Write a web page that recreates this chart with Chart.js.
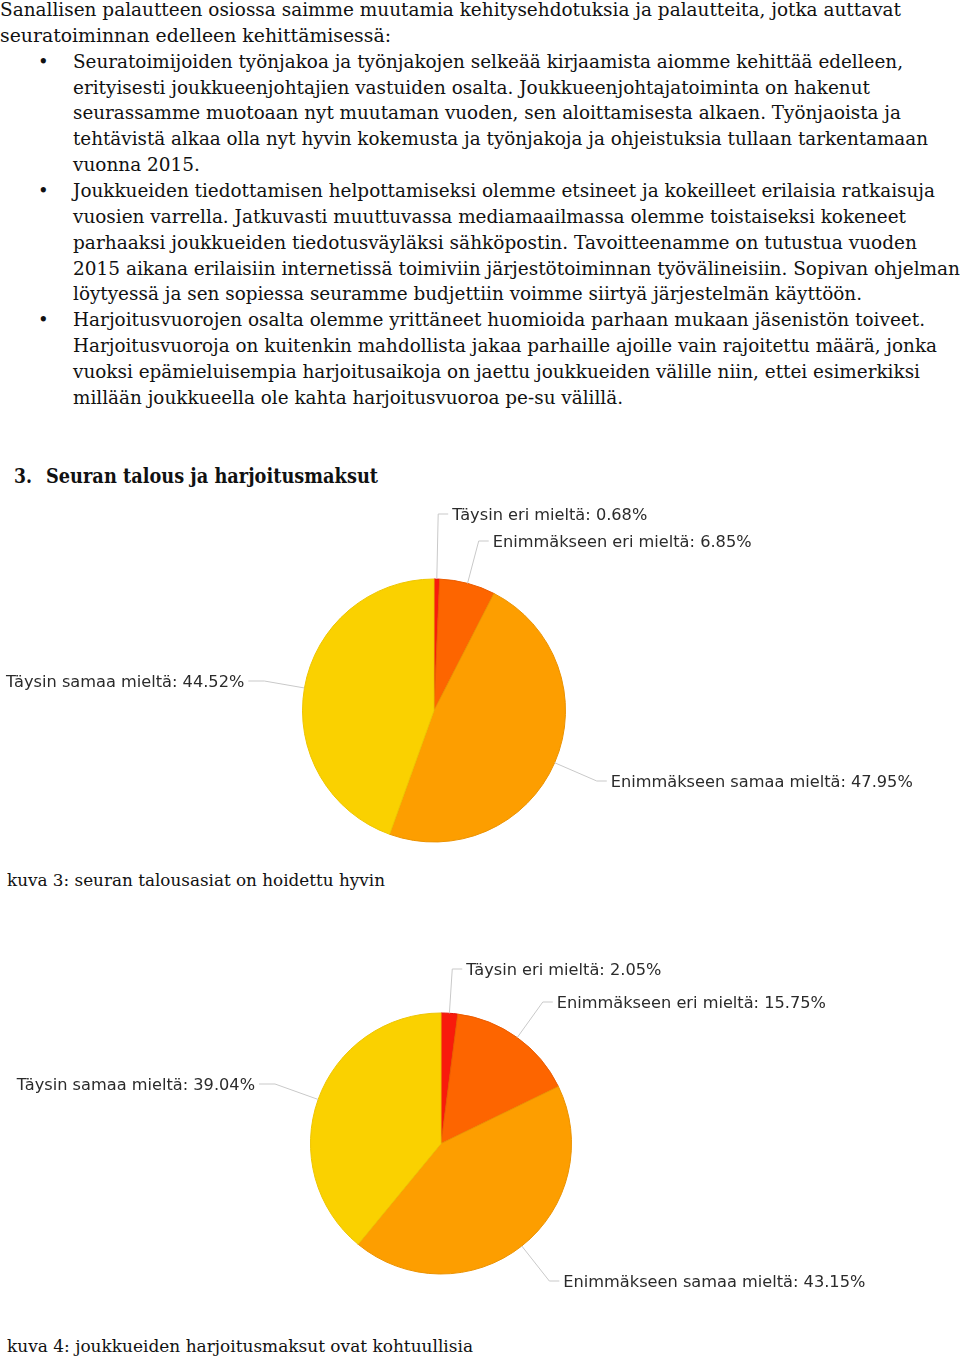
<!DOCTYPE html>
<html>
<head>
<meta charset="utf-8">
<script src="https://cdn.jsdelivr.net/npm/chart.js@4.4.1/dist/chart.umd.min.js"></script>
<style>
  html,body{margin:0;padding:0;background:#fff;}
  body{width:960px;height:1359px;position:relative;overflow:hidden;font-family:"DejaVu Serif",serif;color:#111;}
  .ln{position:absolute;white-space:nowrap;font-size:18.5px;line-height:26px;height:26px;transform-origin:0 50%;}
  .bul{position:absolute;font-size:18px;line-height:26px;left:38px;}
  .h{font-weight:bold;font-size:19.5px;}
  .cap{font-size:17px;}
  .cv{position:absolute;left:0;}
</style>
</head>
<body>
<div id="doc"></div>
<div class="cv" style="top:495px;width:960px;height:370px;"><canvas id="c1"></canvas></div>
<div class="cv" style="top:940px;width:960px;height:360px;"><canvas id="c2"></canvas></div>
<script>
// ---- data ----
const categories = ["Täysin eri mieltä", "Enimmäkseen eri mieltä", "Enimmäkseen samaa mieltä", "Täysin samaa mieltä"];
const talousValues = [0.68, 6.85, 47.95, 44.52];
const maksutValues = [2.05, 15.75, 43.15, 39.04];
const sliceColors = ["#f81b0c", "#fd6500", "#fd9e00", "#fad100"];
const sliceEdges = ["#e31508", "#ea5c00", "#eb9200", "#eec500"];

// ---- document text (line by line as in reference) ----
const bodyLines = [
  ["Sanallisen palautteen osiossa saimme muutamia kehitysehdotuksia ja palautteita, jotka auttavat", 0, 901, false],
  ["seuratoiminnan edelleen kehittämisessä:", 0, 391, false],
  ["Seuratoimijoiden työnjakoa ja työnjakojen selkeää kirjaamista aiomme kehittää edelleen,", 73, 830, true],
  ["erityisesti joukkueenjohtajien vastuiden osalta. Joukkueenjohtajatoiminta on hakenut", 73, 797, false],
  ["seurassamme muotoaan nyt muutaman vuoden, sen aloittamisesta alkaen. Työnjaoista ja", 73, 828, false],
  ["tehtävistä alkaa olla nyt hyvin kokemusta ja työnjakoja ja ohjeistuksia tullaan tarkentamaan", 73, 855, false],
  ["vuonna 2015.", 73, 127, false],
  ["Joukkueiden tiedottamisen helpottamiseksi olemme etsineet ja kokeilleet erilaisia ratkaisuja", 73, 862, true],
  ["vuosien varrella. Jatkuvasti muuttuvassa mediamaailmassa olemme toistaiseksi kokeneet", 73, 833, false],
  ["parhaaksi joukkueiden tiedotusväyläksi sähköpostin. Tavoitteenamme on tutustua vuoden", 73, 844, false],
  ["2015 aikana erilaisiin internetissä toimiviin järjestötoiminnan työvälineisiin. Sopivan ohjelman", 73, 887, false],
  ["löytyessä ja sen sopiessa seuramme budjettiin voimme siirtyä järjestelmän käyttöön.", 73, 789, false],
  ["Harjoitusvuorojen osalta olemme yrittäneet huomioida parhaan mukaan jäsenistön toiveet.", 73, 852, true],
  ["Harjoitusvuoroja on kuitenkin mahdollista jakaa parhaille ajoille vain rajoitettu määrä, jonka", 73, 864, false],
  ["vuoksi epämieluisempia harjoitusaikoja on jaettu joukkueiden välille niin, ettei esimerkiksi", 73, 847, false],
  ["millään joukkueella ole kahta harjoitusvuoroa pe-su välillä.", 73, 550, false]
];
const doc = document.getElementById('doc');
function addLine(text, x, w, yc, cls){
  const d = document.createElement('div');
  d.className = 'ln' + (cls ? ' ' + cls : '');
  d.textContent = text;
  d.style.left = x + 'px';
  d.style.top = (yc - 13) + 'px';
  d.dataset.w = w;
  doc.appendChild(d);
  return d;
}
bodyLines.forEach((l, i) => {
  const yc = 10 + i * 25.85;
  addLine(l[0], l[1], l[2], yc);
  if (l[3]) {
    const b = document.createElement('div');
    b.className = 'bul'; b.textContent = '•';
    b.style.top = (yc - 13) + 'px';
    doc.appendChild(b);
  }
});
addLine("3.", 14, 18, 476.5, 'h');
addLine("Seuran talous ja harjoitusmaksut", 46, 332, 476.5, 'h');
addLine("kuva 3: seuran talousasiat on hoidettu hyvin", 7, 378, 880, 'cap');
addLine("kuva 4: joukkueiden harjoitusmaksut ovat kohtuullisia", 7, 466, 1346, 'cap');
document.querySelectorAll('.ln').forEach(d => {
  const w = d.getBoundingClientRect().width;
  const t = parseFloat(d.dataset.w);
  if (w > 0) d.style.transform = 'scaleX(' + (t / w) + ')';
});

// ---- callout label plugin ----
const calloutPlugin = {
  id: 'callouts',
  afterDatasetsDraw(chart, args, opts) {
    const ctx = chart.ctx;
    const meta = chart.getDatasetMeta(0);
    const values = chart.data.datasets[0].data;
    ctx.save();
    ctx.font = '16.2px "DejaVu Sans"';
    ctx.textBaseline = 'middle';
    meta.data.forEach((arc, i) => {
      const p = arc.getProps(['x', 'y', 'startAngle', 'endAngle', 'outerRadius'], true);
      const mid = (p.startAngle + p.endAngle) / 2;
      const c = Math.cos(mid), s = Math.sin(mid);
      const ex = p.x + c * p.outerRadius, ey = p.y + s * p.outerRadius;
      const ly = p.y + opts.dy[i];
      const t = Math.abs(s) > 0.01 ? (ly - ey) / s : 0;
      const bx = ex + c * t;
      const dir = c >= 0 ? 1 : -1;
      const hx = bx + dir * (dir > 0 ? 10 : 16);
      ctx.strokeStyle = '#c9c9c9';
      ctx.lineWidth = 1;
      ctx.beginPath();
      ctx.moveTo(ex, ey);
      ctx.lineTo(bx, ly);
      ctx.lineTo(hx, ly);
      ctx.stroke();
      ctx.fillStyle = '#2b2b2b';
      ctx.textAlign = dir > 0 ? 'left' : 'right';
      const txt = chart.data.labels[i] + ': ' + values[i].toFixed(2) + '%';
      ctx.fillText(txt, hx + dir * 4, ly + 1.5);
    });
    ctx.restore();
  }
};

function makePie(id, values, pad, dy) {
  return new Chart(document.getElementById(id), {
    type: 'pie',
    data: {
      labels: categories,
      datasets: [{
        data: values,
        backgroundColor: sliceColors,
        borderColor: sliceEdges,
        borderWidth: 1
      }]
    },
    options: {
      responsive: true,
      maintainAspectRatio: false,
      animation: false,
      layout: { padding: pad },
      plugins: {
        legend: { display: false },
        tooltip: { enabled: false },
        callouts: { dy: dy }
      }
    },
    plugins: [calloutPlugin]
  });
}
makePie('c1', talousValues, { left: 302, right: 394, top: 83, bottom: 22 }, [-196.5, -169.5, 70.5, -29.5]);
makePie('c2', maksutValues, { left: 310, right: 388, top: 72, bottom: 25 }, [-174.5, -141.5, 137.5, -59.5]);
</script>
</body>
</html>
